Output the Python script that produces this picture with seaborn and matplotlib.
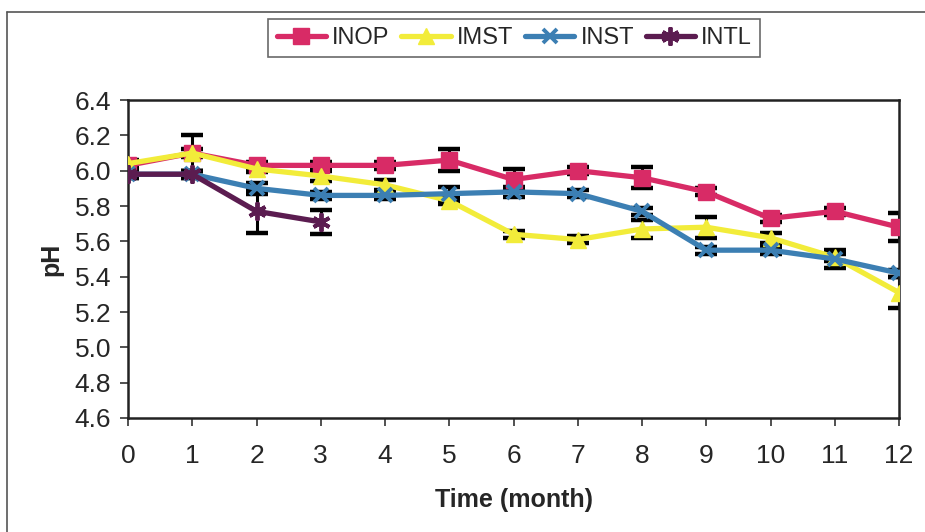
import numpy as np
import pandas as pd
import matplotlib
matplotlib.use("Agg")
import matplotlib.pyplot as plt
import seaborn as sns

months = list(range(13))
inop = [6.03, 6.10, 6.03, 6.03, 6.03, 6.06, 5.95, 6.00, 5.96, 5.88, 5.73, 5.77, 5.68]
imst = [6.04, 6.10, 6.01, 5.97, 5.92, 5.83, 5.64, 5.61, 5.67, 5.68, 5.62, 5.51, 5.31]
inst = [5.98, 5.98, 5.90, 5.86, 5.86, 5.87, 5.88, 5.87, 5.77, 5.55, 5.55, 5.50, 5.42]
intl = [5.98, 5.98, 5.77, 5.71]
inop_err = [0.02, 0.10, 0.02, 0.02, 0.02, 0.06, 0.06, 0.02, 0.06, 0.02, 0.02, 0.02, 0.08]
imst_err = [0.02, 0.02, 0.02, 0.03, 0.03, 0.02, 0.02, 0.02, 0.05, 0.06, 0.03, 0.02, 0.09]
inst_err = [0.02, 0.02, 0.03, 0.02, 0.02, 0.04, 0.03, 0.02, 0.02, 0.02, 0.02, 0.05, 0.02]
intl_err = [0.02, 0.02, 0.12, 0.07]

names = ["INOP", "IMST", "INST", "INTL"]
vals = [inop, imst, inst, intl]
errs = [inop_err, imst_err, inst_err, intl_err]
colors = {"INOP": "#D82B66", "IMST": "#F2EC3A", "INST": "#3C7FB3", "INTL": "#5B1C50"}
markers = {"INOP": "s", "IMST": "^", "INST": "x", "INTL": (6, 2, 0)}
msizes = {"INOP": 12, "IMST": 12, "INST": 10, "INTL": 13}

rows = []
for n, v in zip(names, vals):
    for m, y in zip(months, v):
        rows.append({"Time": m, "pH": y, "Series": n})
df = pd.DataFrame(rows)

sns.set_style("white")
plt.rcParams["font.family"] = ["Liberation Sans", "DejaVu Sans"]

fig = plt.figure(figsize=(9.25, 5.32), dpi=100)
ax = fig.add_axes([0.1384, 0.2143, 0.8335, 0.5977])

for n, v, e in zip(names, vals, errs):
    ax.errorbar(months[:len(v)], v, yerr=e, fmt="none", ecolor="black",
                elinewidth=2.2, capsize=8, capthick=3.2, zorder=1)

for n, v in zip(names, vals):
    sub = df[df["Series"] == n]
    sns.lineplot(data=sub, x="Time", y="pH", ax=ax, color=colors[n], linewidth=3.8,
                 marker=markers[n], markersize=msizes[n],
                 markeredgewidth=2.8 if n in ("INST", "INTL") else 1,
                 markeredgecolor=colors[n], label=n, zorder=3)

ax.set_xlim(0, 12)
ax.set_ylim(4.6, 6.4)
ax.set_xticks(months)
yt = np.round(np.arange(4.6, 6.41, 0.2), 1)
ax.set_yticks(yt)
ax.set_yticklabels([f"{t:.1f}" for t in yt])
ax.tick_params(axis="both", labelsize=19, direction="out", length=6, width=1.2, color="#333333",
               bottom=True, left=True, pad=6)
ax.tick_params(axis="x", pad=13)
ax.set_xlabel("Time (month)", fontsize=18, fontweight="bold", labelpad=14)
ax.set_ylabel("pH", fontsize=18, fontweight="bold", labelpad=8)
for s in ax.spines.values():
    s.set_color("#222222")
    s.set_linewidth(1.8)

if ax.get_legend():
    ax.get_legend().remove()
handles, labels = ax.get_legend_handles_labels()
leg = fig.legend(handles, labels, loc="center", bbox_to_anchor=(0.556, 0.9286), ncol=4,
                 fontsize=17, frameon=True, fancybox=False, edgecolor="#444444",
                 handlelength=2.1, handletextpad=0.25, columnspacing=0.5, borderpad=0.35)
leg.get_frame().set_linewidth(1.2)

fig.add_artist(plt.Line2D([7/925, 7/925], [0, 1 - 12/532], color="#555555", linewidth=1.2))
fig.add_artist(plt.Line2D([7/925, 1], [1 - 12/532, 1 - 12/532], color="#555555", linewidth=1.2))

fig.savefig("out.png", dpi=100)
